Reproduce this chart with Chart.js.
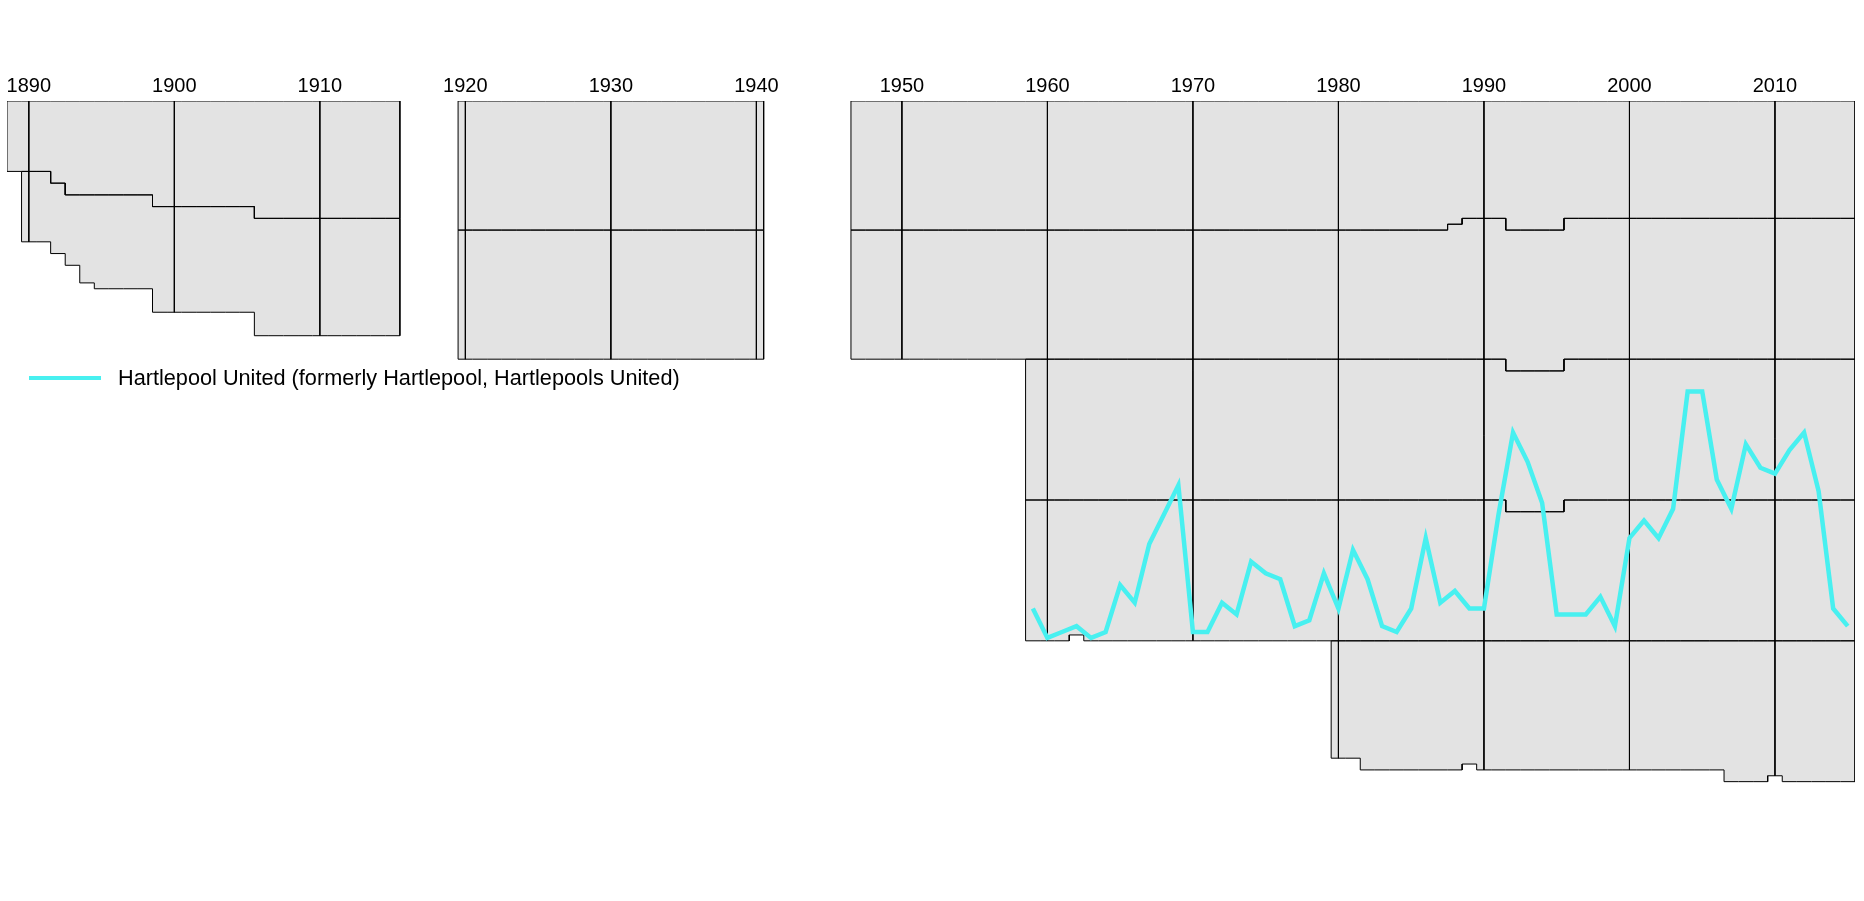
<!DOCTYPE html>
<html>
<head>
<meta charset="utf-8">
<title>Hartlepool United league positions</title>
<script src="https://cdn.jsdelivr.net/npm/chart.js@4.4.0/dist/chart.umd.min.js"></script>
<style>
  html, body { margin: 0; padding: 0; background: #fff; }
  #wrap { position: relative; width: 1864px; height: 901px; }
  #legend {
    position: absolute; left: 29px; top: 365px; height: 26px;
    display: flex; align-items: center;
    font: 21.7px "Liberation Sans", Arial, sans-serif; color: #000;
  }
  #legend .swatch { width: 72px; height: 4px; margin-right: 17px; }
</style>
</head>
<body>
<div id="wrap">
  <canvas id="myChart" width="1864" height="901"></canvas>
  <div id="legend"></div>
</div>
<script>
// seasons are plotted at the year they ended (1888-89 -> 1889)
const eras = [[1889, 1915], [1920, 1940], [1947, 2015]];
const tickYears = [1890, 1900, 1910, 1920, 1930, 1940, 1950, 1960, 1970, 1980, 1990, 2000, 2010];

// clubs per division: [first season, last season, clubs]
const tier1Sizes = [[1889, 1891, 12], [1892, 1892, 14], [1893, 1898, 16], [1899, 1905, 18], [1906, 1915, 20],
  [1920, 1940, 22], [1947, 1987, 22], [1988, 1988, 21], [1989, 1991, 20], [1992, 1995, 22], [1996, 2015, 20]];
const tier2Sizes = [[1890, 1893, 12], [1894, 1894, 15], [1895, 1898, 16], [1899, 1905, 18], [1906, 1915, 20],
  [1920, 1940, 22], [1947, 1987, 22], [1988, 1988, 23], [1989, 2015, 24]];
const tier3Sizes = [[1959, 2015, 24]];
const tier4Sizes = [[1959, 1961, 24], [1962, 1962, 23], [1963, 1991, 24], [1992, 1995, 22], [1996, 2015, 24]];
const tier5Sizes = [[1980, 1981, 20], [1982, 1988, 22], [1989, 1989, 21], [1990, 2006, 22], [2007, 2009, 24],
  [2010, 2010, 23], [2011, 2015, 24]];

const clubName = 'Hartlepool United (formerly Hartlepool, Hartlepools United)';
const clubColor = '#48f0f0';
const hartSeasons = [1959, 1960, 1961, 1962, 1963, 1964, 1965, 1966, 1967, 1968, 1969, 1970, 1971, 1972, 1973,
  1974, 1975, 1976, 1977, 1978, 1979, 1980, 1981, 1982, 1983, 1984, 1985, 1986, 1987, 1988, 1989, 1990, 1991,
  1992, 1993, 1994, 1995, 1996, 1997, 1998, 1999, 2000, 2001, 2002, 2003, 2004, 2005, 2006, 2007, 2008, 2009,
  2010, 2011, 2012, 2013, 2014, 2015];
const hartTier = [4, 4, 4, 4, 4, 4, 4, 4, 4, 4, 3, 4, 4, 4, 4, 4, 4, 4, 4, 4, 4, 4, 4, 4, 4, 4, 4, 4, 4, 4, 4, 4, 4,
  3, 3, 3, 4, 4, 4, 4, 4, 4, 4, 4, 4, 3, 3, 3, 4, 3, 3, 3, 3, 3, 3, 4, 4];
const hartPos = [19, 24, 23, 22, 24, 23, 15, 18, 8, 3, 22, 23, 23, 18, 20, 11, 13, 14, 22, 21, 13, 19, 9, 14, 22,
  23, 19, 7, 18, 16, 19, 19, 3, 11, 16, 23, 18, 20, 20, 17, 22, 7, 4, 7, 2, 6, 6, 21, 2, 15, 19, 20, 16, 13, 23,
  19, 22];

const tiers = [tier1Sizes, tier2Sizes, tier3Sizes, tier4Sizes, tier5Sizes];
const fillGrey = '#e3e3e3';

function sizeOf(spans, season) {
  for (const [a, b, n] of spans) {
    if (season >= a && season <= b) return n;
  }
  return 0;
}

function depthAbove(tier, season) {
  let d = 0;
  for (let k = 0; k < tier - 1; k++) d += sizeOf(tiers[k], season);
  return d;
}

function totalDepth(season) {
  return depthAbove(tiers.length + 1, season);
}

function seasonsOf(era) {
  const list = [];
  for (let s = era[0]; s <= era[1]; s++) list.push(s);
  return list;
}

const datasets = [];

// grey block behind every era
eras.forEach(era => {
  const pts = [];
  seasonsOf(era).forEach(s => {
    pts.push({ x: s - 0.5, y: totalDepth(s) }, { x: s + 0.5, y: totalDepth(s) });
  });
  datasets.push({
    data: pts, borderWidth: 0, pointRadius: 0, fill: { value: 0 },
    backgroundColor: fillGrey, order: 3
  });
});

// outline of each division in each era
eras.forEach(era => {
  tiers.forEach((spans, t) => {
    const seasons = seasonsOf(era).filter(s => sizeOf(spans, s) > 0);
    if (!seasons.length) return;
    const top = [], bottom = [];
    seasons.forEach(s => {
      const d = depthAbove(t + 1, s);
      const n = sizeOf(spans, s);
      top.push({ x: s - 0.5, y: d }, { x: s + 0.5, y: d });
      bottom.unshift({ x: s + 0.5, y: d + n }, { x: s - 0.5, y: d + n });
    });
    datasets.push({
      data: top.concat(bottom, [top[0]]), borderColor: '#000', borderWidth: 1,
      pointRadius: 0, fill: false, order: 1
    });
  });
});

// decade lines, down to the lowest division of that season
tickYears.forEach(yr => {
  datasets.push({
    data: [{ x: yr, y: 0 }, { x: yr, y: totalDepth(yr) }],
    borderColor: '#000', borderWidth: 1, pointRadius: 0, fill: false, order: 1
  });
});

const clubData = hartSeasons.map((s, i) => ({
  x: s, y: depthAbove(hartTier[i], s) + hartPos[i] - 0.5
}));
datasets.push({
  label: clubName, data: clubData, borderColor: clubColor, borderWidth: 4.5,
  pointRadius: 0, fill: false, order: 0, borderJoinStyle: 'miter'
});

const ctx = document.getElementById('myChart').getContext('2d');
const myChart = new Chart(ctx, {
  type: 'line',
  data: { datasets },
  options: {
    responsive: false,
    animation: false,
    events: [],
    layout: { padding: { top: 71, left: 7, right: 9, bottom: 2 } },
    elements: { line: { tension: 0 } },
    plugins: { legend: { display: false }, tooltip: { enabled: false } },
    scales: {
      x: {
        type: 'linear', position: 'top', min: 1888.5, max: 2015.5,
        grid: { display: false, drawTicks: false },
        border: { display: false },
        afterBuildTicks: scale => { scale.ticks = tickYears.map(v => ({ value: v })); },
        ticks: {
          color: '#000', padding: 3, maxRotation: 0, autoSkip: false,
          font: { size: 20, family: '"Liberation Sans", Arial, sans-serif' },
          callback: v => String(v)
        }
      },
      y: { type: 'linear', reverse: true, min: 0, max: 136, display: false }
    }
  }
});

const legend = document.getElementById('legend');
legend.innerHTML = `<div class="swatch" style="background:${clubColor}"></div><span>${clubName}</span>`;
</script>
</body>
</html>
